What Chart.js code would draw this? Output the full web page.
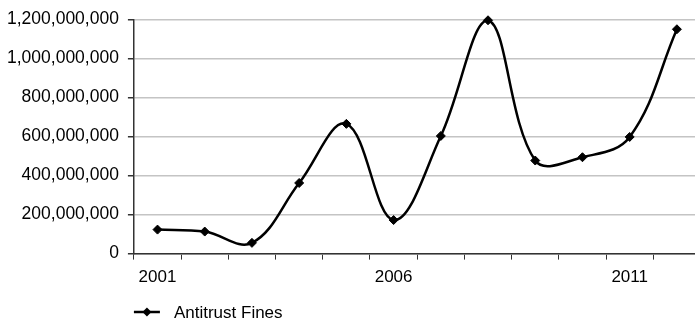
<!DOCTYPE html>
<html>
<head>
<meta charset="utf-8">
<script src="https://cdn.jsdelivr.net/npm/chart.js@4/dist/chart.umd.min.js"></script>
<style>
  html, body { margin: 0; padding: 0; background: #fff; overflow: hidden; }
  #wrap { position: relative; width: 706px; height: 322px; }
</style>
</head>
<body>
<div id="wrap"><canvas id="chart" width="706" height="322"></canvas></div>
<script>
// Annual antitrust fines, 2001-2012 (USD)
const years = ['2001','2002','2003','2004','2005','2006','2007','2008','2009','2010','2011','2012'];
const fines = [123000000, 113000000, 55000000, 362000000, 665000000, 172000000,
               603000000, 1196000000, 477000000, 494000000, 598000000, 1150000000];
const shownYears = ['2001', '2006', '2011'];
const seriesName = 'Antitrust Fines';

const FONT = 'Liberation Sans, Arial, Helvetica, sans-serif';
const FONT_SIZE = 17;

// Legend swatch: short line with a diamond marker
function legendSwatch(ctx, x, y) {
  ctx.save();
  ctx.strokeStyle = '#000';
  ctx.lineWidth = 2.5;
  ctx.beginPath();
  ctx.moveTo(x, y);
  ctx.lineTo(x + 26, y);
  ctx.stroke();
  ctx.fillStyle = '#000';
  ctx.beginPath();
  ctx.moveTo(x + 13, y - 4.5);
  ctx.lineTo(x + 17.5, y);
  ctx.lineTo(x + 13, y + 4.5);
  ctx.lineTo(x + 8.5, y);
  ctx.closePath();
  ctx.fill();
  ctx.restore();
}

const bottomLegend = {
  id: 'bottomLegend',
  afterDraw(chart) {
    const ctx = chart.ctx;
    const x0 = chart.chartArea.left;
    const y0 = 312;
    chart.data.datasets.forEach((ds) => {
      legendSwatch(ctx, x0, y0);
      ctx.save();
      ctx.fillStyle = '#000';
      ctx.font = FONT_SIZE + 'px ' + FONT;
      ctx.textBaseline = 'middle';
      ctx.textAlign = 'left';
      ctx.fillText(ds.label, x0 + 40, y0 + 1);
      ctx.restore();
    });
  }
};

new Chart(document.getElementById('chart'), {
  type: 'line',
  data: {
    labels: years,
    datasets: [{
      label: seriesName,
      data: fines,
      borderColor: '#000',
      backgroundColor: '#000',
      borderWidth: 2.5,
      tension: 0.38,
      pointStyle: 'rectRot',
      pointRadius: 4.5,
      pointHoverRadius: 4.5,
      pointBorderWidth: 1,
      pointBackgroundColor: '#000',
      pointBorderColor: '#000',
      clip: false
    }]
  },
  plugins: [bottomLegend],
  options: {
    responsive: false,
    animation: false,
    events: [],
    layout: { padding: { left: -2, right: 5, top: 19, bottom: 26 } },
    plugins: {
      legend: { display: false },
      tooltip: { enabled: false }
    },
    scales: {
      x: {
        offset: true,
        grid: {
          display: true,
          drawOnChartArea: false,
          drawTicks: true,
          tickLength: 6,
          tickColor: '#333',
          tickWidth: 1,
          offset: true
        },
        border: { display: true, color: '#333', width: 1.5 },
        ticks: {
          color: '#000',
          font: { family: FONT, size: FONT_SIZE },
          maxRotation: 0,
          autoSkip: false,
          padding: 8,
          callback(value, index) {
            const lab = years[index];
            return shownYears.includes(lab) ? lab : '';
          }
        }
      },
      y: {
        min: 0,
        max: 1200000000,
        grid: {
          color: '#c4c4c4',
          lineWidth: 1.5,
          tickLength: 6,
          tickColor: '#333',
          drawTicks: true
        },
        border: { display: true, color: '#333', width: 1.5 },
        ticks: {
          stepSize: 200000000,
          color: '#000',
          font: { family: FONT, size: 17.5 },
          padding: 9,
          callback(v) { return v.toLocaleString('en-US'); }
        }
      }
    }
  }
});
</script>
</body>
</html>
